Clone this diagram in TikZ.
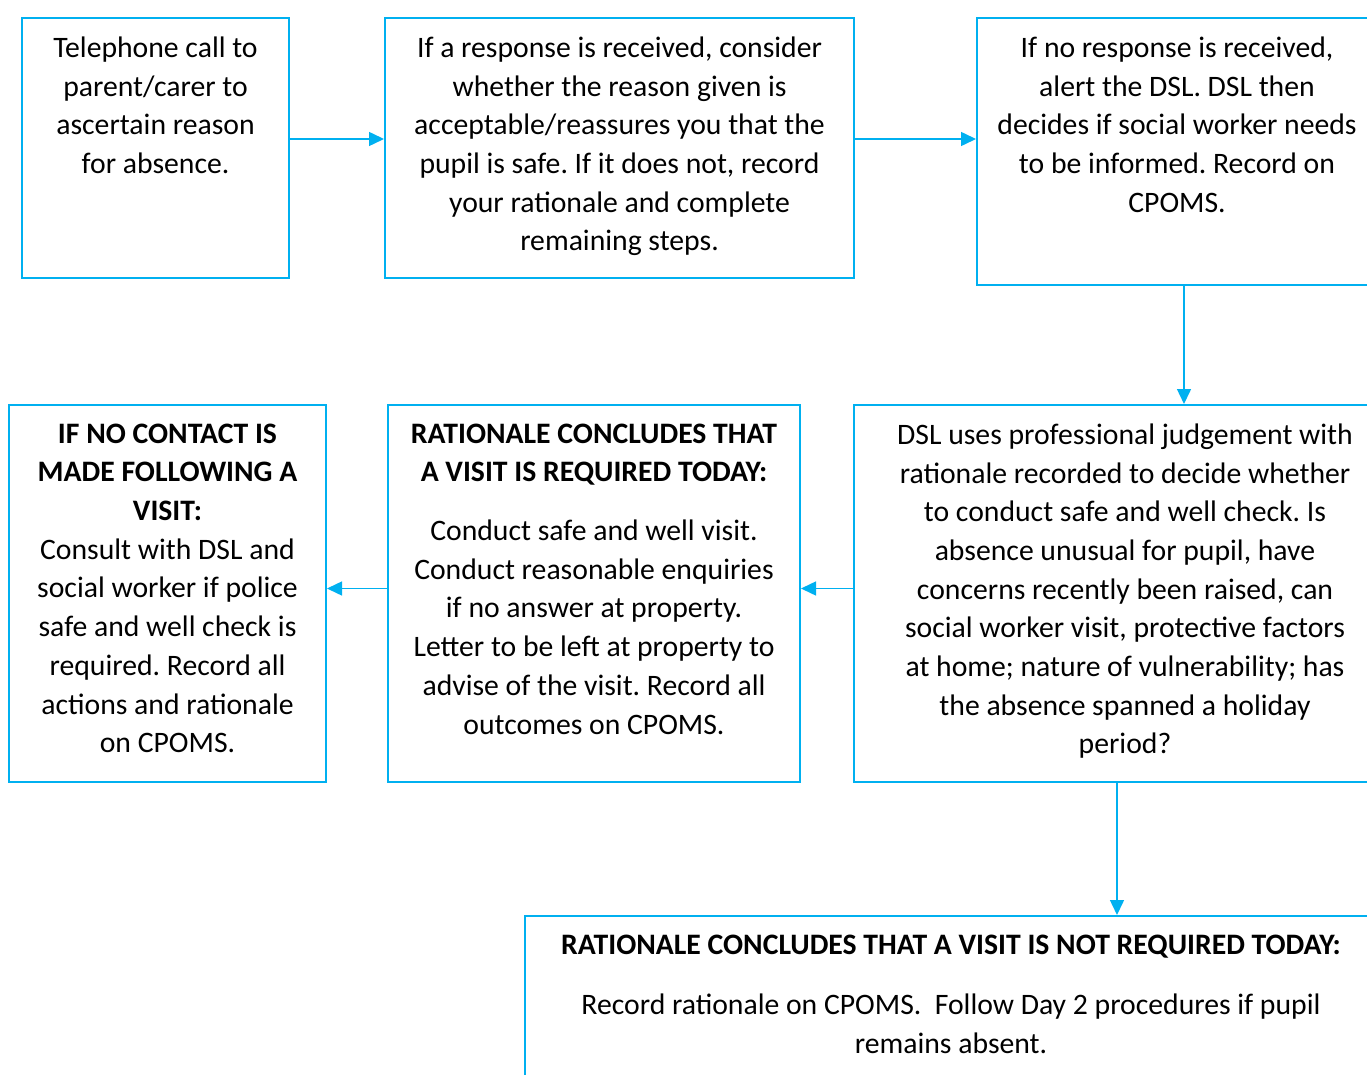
\documentclass[tikz,border=0pt]{standalone}
\usepackage{fontspec}
\setmainfont{Carlito}
\usetikzlibrary{arrows.meta,calc}

\definecolor{flowblue}{HTML}{00B0F0}

\tikzset{%
  step box/.style={
    draw=flowblue,
    line width=2pt,
    rectangle,
    anchor=north west,
    inner sep=0pt
  },
  step text/.style={
    anchor=north,
    align=center,
    inner sep=0pt,
    font=\fontsize{29.7pt}{38.7pt}\selectfont\frenchspacing
  },
  flow arrow/.style={draw=flowblue, line width=1.5pt, -{Triangle[length=15pt,width=14pt]}},
}

\begin{document}
\begin{tikzpicture}[x=1pt, y=-1pt]
\useasboundingbox (0,0) rectangle (1367,1075);
\clip (0,0) rectangle (1367,1075);
%=========================================================================================================
% Top row
%=========================================================================================================

%Telephone call box
\node [step box, minimum width=267pt, minimum height=260pt] (call) at (21,17) {};
\node [step text] (call-text) at ($(call.north)+(0,19.5)$)
  {Telephone call to\\parent/carer to\\ascertain reason\\for absence.};

%Response received box
\node [step box, minimum width=469pt, minimum height=260pt] (response) at (384,17) {};
\node [step text] (response-text) at ($(response.north)+(0,19.5)$)
  {If a response is received, consider\\whether the reason given is\\acceptable/reassures you that the\\pupil is safe. If it does not, record\\your rationale and complete\\remaining steps.};

%No response box (runs off the right edge)
\node [step box, minimum width=414pt, minimum height=267pt] (noresponse) at (976,17) {};
\node [step text] (noresponse-text) at ($(noresponse.north)+(-7,19.5)$)
  {If no response is received,\\alert the DSL. DSL then\\decides if social worker needs\\to be informed. Record on\\CPOMS.};

%=========================================================================================================
% Middle row
%=========================================================================================================

%DSL judgement box
\node [step box, minimum width=542pt, minimum height=377pt] (judgement) at (853,404) {};
\node [step text] (judgement-text) at ($(judgement.north)+(0,19.5)$)
  {DSL uses professional judgement with\\rationale recorded to decide whether\\to conduct safe and well check. Is\\absence unusual for pupil, have\\concerns recently been raised, can\\social worker visit, protective factors\\at home; nature of vulnerability; has\\the absence spanned a holiday\\period?};

%Visit required box
\node [step box, minimum width=412pt, minimum height=377pt] (visit) at (387,404) {};
\node [step text] (visit-text) at ($(visit.north)+(0,19.5)$)
  {\textbf{RATIONALE CONCLUDES THAT}\\\textbf{A VISIT IS REQUIRED TODAY:}\\[20pt]Conduct safe and well visit.\\Conduct reasonable enquiries\\if no answer at property.\\Letter to be left at property to\\advise of the visit. Record all\\outcomes on CPOMS.};

%No contact box
\node [step box, minimum width=317pt, minimum height=377pt] (nocontact) at (8,404) {};
\node [step text] (nocontact-text) at ($(nocontact.north)+(0,19.5)$)
  {\textbf{IF NO CONTACT IS}\\\textbf{MADE FOLLOWING A}\\\textbf{VISIT:}\\Consult with DSL and\\social worker if police\\safe and well check is\\required. Record all\\actions and rationale\\on CPOMS.};

%=========================================================================================================
% Bottom row
%=========================================================================================================

%Visit not required box (runs off the page)
\node [step box, minimum width=852pt, minimum height=200pt] (notrequired) at (524,915) {};
\node [step text] (notrequired-text) at ($(notrequired.north)+(0,19.5)$)
  {\textbf{RATIONALE CONCLUDES THAT A VISIT IS NOT REQUIRED TODAY:}\\[22pt]Record rationale on CPOMS.\ \ Follow Day 2 procedures if pupil\\remains absent.};

%=========================================================================================================
% Draw connections
%=========================================================================================================
\coordinate (call-out) at ($(call.east)+(0,-9)$);
\coordinate (response-out) at ($(response.east)+(0,-9)$);
\coordinate (judgement-out) at ($(judgement.west)+(0,-5)$);
\coordinate (visit-out) at ($(visit.west)+(0,-5)$);
\coordinate (judgement-down) at ($(judgement.south)+(-8,0)$);

\draw [flow arrow] (call-out) -- (call-out -| response.west);
\draw [flow arrow] (response-out) -- (response-out -| noresponse.west);
\draw [flow arrow] (noresponse.south) -- (noresponse.south |- judgement.north);
\draw [flow arrow] (judgement-out) -- (judgement-out -| visit.east);
\draw [flow arrow] (visit-out) -- (visit-out -| nocontact.east);
\draw [flow arrow] (judgement-down) -- (judgement-down |- notrequired.north);

\end{tikzpicture}
\end{document}
